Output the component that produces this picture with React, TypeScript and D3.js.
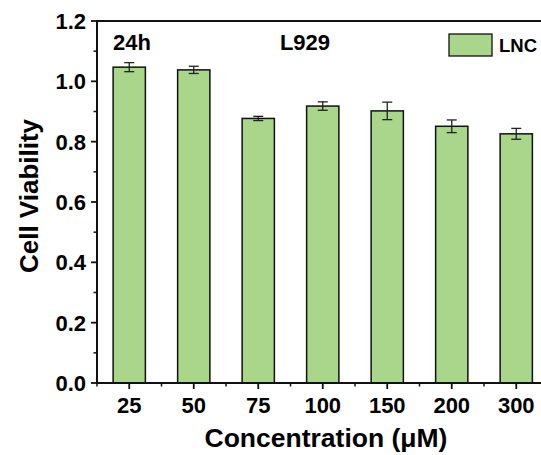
import React from "react";
import * as d3 from "d3";

const categories = ["25", "50", "75", "100", "150", "200", "300"];
const values = [1.047, 1.038, 0.877, 0.918, 0.902, 0.851, 0.826];
const errors = [0.015, 0.012, 0.007, 0.014, 0.029, 0.021, 0.018];
const yTicks = [0.0, 0.2, 0.4, 0.6, 0.8, 1.0, 1.2];
const yMinorTicks = [0.1, 0.3, 0.5, 0.7, 0.9, 1.1];
const seriesName = "LNC";

const W = 541;
const H = 455;
const left = 97;
const right = 548.5;
const top = 21;
const bottom = 383;
const FILL = "#a9d68b";
const FONT = "Arial, 'Liberation Sans', Helvetica, sans-serif";

export default function App() {
  const x = d3.scaleBand<string>().domain(categories).range([left, right]).paddingInner(0.5).paddingOuter(0.25);
  const xPoint = (c: string) => (x(c) as number) + x.bandwidth() / 2;
  const step = x.step();
  const y = d3.scaleLinear().domain([0, 1.2]).range([bottom, top]);

  const minorX = categories.slice(0, -1).map((c) => xPoint(c) + step / 2);
  minorX.unshift(xPoint(categories[0]) - step / 2 + 0.001);

  return (
    <svg width={W} height={H} style={{ position: "absolute", left: 0, top: 0, background: "#fff" }} fontFamily={FONT}>
      {/* bars */}
      {categories.map((c, i) => (
        <rect key={c} x={x(c)} y={y(values[i])} width={x.bandwidth()} height={bottom - y(values[i])}
          fill={FILL} stroke="#111" strokeWidth={1.5} />
      ))}
      {/* error bars */}
      {categories.map((c, i) => {
        const cx = xPoint(c);
        const y1 = y(values[i] + errors[i]);
        const y2 = y(values[i] - errors[i]);
        return (
          <g key={"e" + c} stroke="#222" strokeWidth={1.3}>
            <line x1={cx} x2={cx} y1={y1} y2={y2} />
            <line x1={cx - 5} x2={cx + 5} y1={y1} y2={y1} />
            <line x1={cx - 5} x2={cx + 5} y1={y2} y2={y2} />
          </g>
        );
      })}
      {/* frame */}
      <rect x={left} y={top} width={right - left} height={bottom - top} fill="none" stroke="#111" strokeWidth={2} />
      {/* y ticks */}
      {yTicks.map((t) => (
        <g key={"yt" + t}>
          <line x1={left - 6} x2={left} y1={y(t)} y2={y(t)} stroke="#111" strokeWidth={1.8} />
          <text x={left - 11} y={y(t)} dy="0.36em" textAnchor="end" fontSize={22} fontWeight="bold" fill="#000">
            {d3.format(".1f")(t)}
          </text>
        </g>
      ))}
      {yMinorTicks.map((t) => (
        <line key={"ym" + t} x1={left - 3.5} x2={left} y1={y(t)} y2={y(t)} stroke="#111" strokeWidth={1.5} />
      ))}
      {/* x ticks */}
      {categories.map((c) => (
        <g key={"xt" + c}>
          <line x1={xPoint(c)} x2={xPoint(c)} y1={bottom} y2={bottom + 6} stroke="#111" strokeWidth={1.8} />
          <text x={xPoint(c)} y={413} textAnchor="middle" fontSize={22} fontWeight="bold" fill="#000">{c}</text>
        </g>
      ))}
      {minorX.map((mx, i) => (
        <line key={"xm" + i} x1={mx} x2={mx} y1={bottom} y2={bottom + 3.5} stroke="#111" strokeWidth={1.5} />
      ))}
      {/* axis titles */}
      <text x={326} y={447} textAnchor="middle" fontSize={26.5} fontWeight="bold" fill="#000">Concentration (μM)</text>
      <text transform={`translate(38, 196) rotate(-90)`} textAnchor="middle" fontSize={26} fontWeight="bold" fill="#000">Cell Viability</text>
      {/* annotations */}
      <text x={113} y={50} fontSize={22} fontWeight="bold" fill="#000">24h</text>
      <text x={305} y={50} textAnchor="middle" fontSize={22} fontWeight="bold" fill="#000">L929</text>
      {/* legend */}
      <rect x={449} y={34} width={43} height={22} fill={FILL} stroke="#111" strokeWidth={1.3} />
      <text x={499} y={52} fontSize={18.5} fontWeight="bold" fill="#000">{seriesName}</text>
    </svg>
  );
}
